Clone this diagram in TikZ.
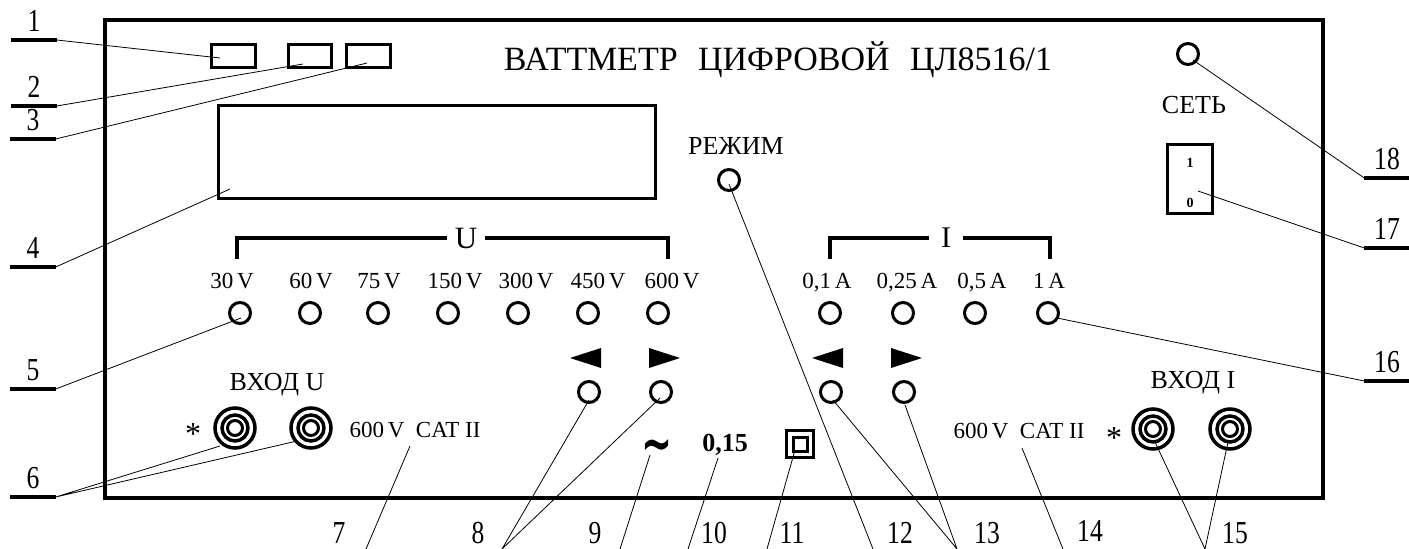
\documentclass[tikz,border=0pt]{standalone}
\usepackage{fontspec}
\setmainfont{Liberation Serif}
\newfontfamily\tagfont[FakeStretch=0.8]{Liberation Serif}
\newfontfamily\symfont{DejaVu Sans}
\usetikzlibrary{calc}
\begin{document}
\begin{tikzpicture}[x=1pt,y=-1pt,
  tagnum/.style={font=\fontsize{32}{32}\tagfont, minimum width=45pt, inner xsep=0pt, inner ysep=8pt, anchor=south},
  tagbot/.style={font=\fontsize{32}{32}\tagfont, inner sep=0pt, anchor=base},
  lbl/.style={font=\fontsize{23}{23}\selectfont, inner sep=0pt, anchor=base},
  lblbig/.style={font=\fontsize{26}{26}\selectfont, inner sep=0pt, anchor=base},
  uline/.style={line width=3.3pt},
  leader/.style={line width=0.8pt},
  brk/.style={line width=3.3pt},
  knob/.style={circle, draw, line width=3pt, minimum size=21pt, inner sep=0pt},
  lamp/.style={draw, line width=3.3pt, minimum height=23pt, inner sep=0pt},
  jack/.style={circle, draw, line width=3.5pt, minimum size=40pt, inner sep=0pt},
  star/.style={font=\fontsize{32}{32}\selectfont, inner sep=0pt, anchor=north},
]
\useasboundingbox (0,0) rectangle (1409,549);
% panel
\draw[line width=3.5pt] (105,20) rectangle (1323,498);
\node[font=\fontsize{34}{34}\selectfont, inner sep=0pt, anchor=base] (title) at (778,70) {ВАТТМЕТР\hspace{0.6em}ЦИФРОВОЙ\hspace{0.6em}ЦЛ8516/1};

% indicators, display
\node[lamp, minimum width=44pt] (r1) at (233.5,56) {};
\node[lamp, minimum width=43pt] (r2) at (310,56) {};
\node[lamp, minimum width=44pt] (r3) at (368.5,56) {};
\node[draw, line width=3.3pt, minimum width=437pt, minimum height=93pt] (disp) at (437,152) {};

% mode
\node[lblbig] (modelbl) at (736,154) {РЕЖИМ};
\node[knob] (mode) at (729,180) {};

% voltage ranges
\node[font=\fontsize{31}{31}\selectfont, inner xsep=8pt, inner ysep=0pt] (U) at (466,238) {U};
\draw[brk] (237,259) |- (U.west);
\draw[brk] (U.east) -| (668,259);
\foreach \n/\x/\lx/\t in {1/240/232/30,2/310/311/60,3/378/379/75,4/448/455/150,5/518/526/300,6/588/598/450,7/658/672/600}{
  \node[lbl] (uv\n) at (\lx,288) {\t\,V};
  \node[knob] (ku\n) at (\x,313) {};
}

% current ranges
\node[font=\fontsize{30}{30}\selectfont, inner xsep=12pt, inner ysep=0pt] (I) at (946,238) {I};
\draw[brk] (830,259) |- (I.west);
\draw[brk] (I.east) -| (1050,259);
\foreach \n/\x/\lx/\t in {1/830/827/{0,1},2/903/907/{0,25},3/975/982/{0,5},4/1048/1049/1}{
  \node[lbl] (ia\n) at (\lx,288) {\t\,A};
  \node[knob] (ki\n) at (\x,313) {};
}

% arrow buttons
\node[knob] (au1) at (589,392) {};
\node[knob] (au2) at (661,392) {};
\node[knob] (ai1) at (831,392) {};
\node[knob] (ai2) at (904,392) {};
\fill (570,358) -- (601,348) -- (601,368) -- cycle;
\fill (680,358) -- (649,348) -- (649,368) -- cycle;
\fill (812,358) -- (843,348) -- (843,368) -- cycle;
\fill (922,358) -- (891,348) -- (891,368) -- cycle;

% input U
\node[lblbig] (inU) at (277,390) {ВХОД U};
\node[jack] (jU1) at (235,428) {};
\node[jack] (jU2) at (311,428) {};
\node[star] (starU) at (193,423) {*};
\node[lbl] (catU) at (415,437) {600\,V\enspace CAT II};

% marks
\node[font=\fontsize{37}{37}\symfont\bfseries, inner sep=0pt, anchor=north] (ac) at (657,439) {\scalebox{1}[1.5]{\textasciitilde}};
\node[font=\fontsize{26}{26}\bfseries, inner sep=0pt, anchor=base] (cls) at (725,451) {0,15};
\node[draw, line width=3.5pt, minimum size=27pt, inner sep=0pt] (dbl) at (800,444) {};
\node[draw, line width=3pt, minimum size=14pt, inner sep=0pt] (dbl2) at (800,444) {};

% input I
\node[lbl] (catI) at (1019,438) {600\,V\enspace CAT II};
\node[star] (starI) at (1114,427) {*};
\node[lblbig] (inI) at (1193,388) {ВХОД I};
\node[jack] (jI1) at (1153,429) {};
\node[jack] (jI2) at (1230,429) {};
\foreach \j in {jU1,jU2,jI1,jI2}{
  \draw[line width=3.5pt] (\j.center) circle[radius=13pt];
  \draw[line width=3pt] (\j.center) circle[radius=7.5pt];
}

% power
\node[knob] (pwr) at (1188,54) {};
\node[lblbig] (netlbl) at (1194,113) {СЕТЬ};
\node[draw, line width=3pt, minimum width=45pt, minimum height=69pt] (sw) at (1190,179) {};
\node[font=\fontsize{14}{14}\bfseries, inner sep=0pt, anchor=base] (sw1) at (1190,167) {1};
\node[font=\fontsize{14}{14}\bfseries, inner sep=0pt, anchor=base] (sw0) at (1190,207) {0};

% tags with underline
\node[tagnum] (t1) at (34,40) {1};
\node[tagnum] (t2) at (34,106) {2};
\node[tagnum] (t3) at (33,139) {3};
\node[tagnum] (t4) at (33,267) {4};
\node[tagnum] (t5) at (33,389) {5};
\node[tagnum] (t6) at (33,497) {6};
\node[tagnum] (t16) at (1387,381) {16};
\node[tagnum] (t17) at (1387,248) {17};
\node[tagnum] (t18) at (1387,178) {18};
\foreach \t in {t1,t2,t3,t4,t5,t6,t16,t17,t18}
  \draw[uline] (\t.south west) -- (\t.south east);

% tags at bottom
\node[tagbot] (b7) at (339,543) {7};
\node[tagbot] (b8) at (478,543) {8};
\node[tagbot] (b9) at (595,543) {9};
\node[tagbot] (b10) at (714,543) {10};
\node[tagbot] (b11) at (792,543) {11};
\node[tagbot] (b12) at (900,543) {12};
\node[tagbot] (b13) at (987,543) {13};
\node[tagbot] (b14) at (1090,541) {14};
\node[tagbot] (b15) at (1235,543) {15};

% leader points
\coordinate (p1) at (220,58);
\coordinate (p2) at (303,64);
\coordinate (p3) at (367,63);
\coordinate (p4) at (230,189);
\coordinate (p5) at (241,318);
\coordinate (p6a) at (220,446);
\coordinate (p6b) at (297,441);
\coordinate (p7) at (410,446);   \coordinate (e7) at (366,549);
\coordinate (p8a) at (589,400);  \coordinate (p8b) at (660,398);
\coordinate (e8) at (502,549);
\coordinate (p9) at (650,455);   \coordinate (e9) at (620,549);
\coordinate (p10) at (718,458);  \coordinate (e10) at (688,549);
\coordinate (p11) at (795,450);  \coordinate (e11) at (767,549);
\coordinate (p12) at (729,184);  \coordinate (e12) at (873,549);
\coordinate (p13a) at (833,400); \coordinate (p13b) at (905,405);
\coordinate (e13) at (957,549);
\coordinate (p14) at (1022,448); \coordinate (e14) at (1063,549);
\coordinate (p15a) at (1155,442); \coordinate (p15b) at (1228,442);
\coordinate (e15) at (1205,549);
\coordinate (p16) at (1057,318);
\coordinate (p17) at (1198,191);
\coordinate (p18) at (1193,60);

% leaders
\draw[leader] (t1.south east) -- (p1);
\draw[leader] (t2.south east) -- (p2);
\draw[leader] (t3.south east) -- (p3);
\draw[leader] (t4.south east) -- (p4);
\draw[leader] (t5.south east) -- (p5);
\draw[leader] (p6a) -- (t6.south east) -- (p6b);
\draw[leader] (p7) -- (e7);
\draw[leader] (p8a) -- (e8) -- (p8b);
\draw[leader] (p9) -- (e9);
\draw[leader] (p10) -- (e10);
\draw[leader] (p11) -- (e11);
\draw[leader] (p12) -- (e12);
\draw[leader] (p13a) -- (e13) -- (p13b);
\draw[leader] (p14) -- (e14);
\draw[leader] (p15a) -- (e15) -- (p15b);
\draw[leader] (p16) -- (t16.south west);
\draw[leader] (p17) -- (t17.south west);
\draw[leader] (p18) -- (t18.south west);
\end{tikzpicture}
\end{document}
